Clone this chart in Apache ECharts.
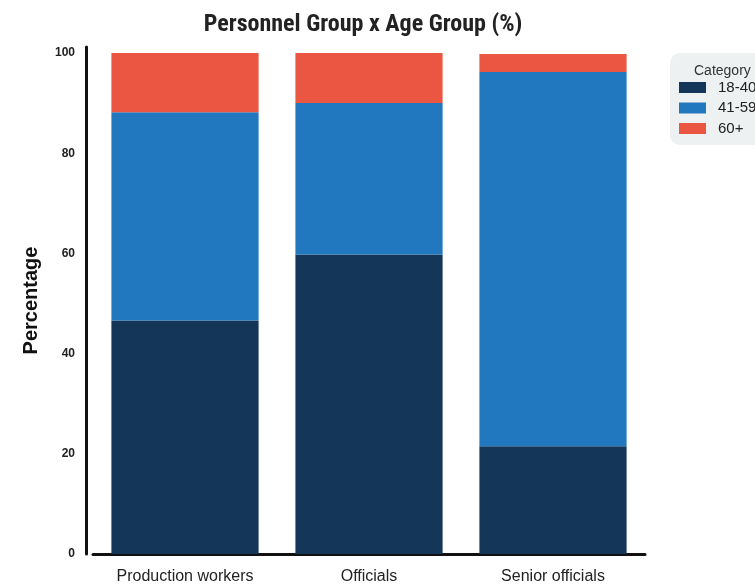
<!DOCTYPE html>
<html><head><meta charset="utf-8">
<script src="https://cdn.jsdelivr.net/npm/echarts@6/dist/echarts.min.js"></script>
<style>html,body{margin:0;padding:0;background:#fff}#c{width:755px;height:585px}</style>
</head><body><div id="c"></div>
<script>
const categories = ['Production workers', 'Officials', 'Senior officials'];
const seriesNames = ['18-40', '41-59', '60+'];
const age18_40 = [46.6, 59.8, 21.5];
const age41_59 = [41.6, 30.2, 74.7];
const age60plus = [11.8, 10.0, 3.6];
const yTicks = [0, 20, 40, 60, 80, 100];
const colors = ['#143659', '#2178bf', '#eb5643'];
const values = [age18_40, age41_59, age60plus];
const F = '"Liberation Sans Narrow", "Roboto Condensed", "Liberation Sans", sans-serif';
const A = '"Liberation Sans", Arial, sans-serif';

const chart = echarts.init(document.getElementById('c'));
chart.setOption({
  animation: false,
  title: [
    { text: 'Personnel Group x Age Group (%)', left: 358, top: 8, textAlign: 'center',
      textStyle: { fontFamily: F, fontSize: 24, fontWeight: 'bold', color: '#222' } },
    { text: 'Category', left: 689, top: 59,
      textStyle: { fontFamily: A, fontSize: 14, fontWeight: 'normal', color: '#333' } }
  ],
  legend: {
    orient: 'vertical', left: 670, top: 53,
    backgroundColor: '#edf1f1', borderRadius: 10,
    padding: [27, 30, 9, 9], itemWidth: 27, itemHeight: 11, itemGap: 5.5,
    icon: 'rect',
    textStyle: { fontFamily: A, fontSize: 15, color: '#222', padding: [0, 0, 0, 7] },
    data: seriesNames
  },
  grid: { left: 93, right: 110, top: 47, bottom: 29 },
  xAxis: {
    type: 'category', data: categories,
    axisLine: { lineStyle: { color: '#111', width: 3 } },
    axisTick: { show: false },
    axisLabel: { fontFamily: A, fontSize: 16, color: '#222', margin: 15 }
  },
  yAxis: {
    type: 'value', min: 0, max: 101.2, interval: 20, offset: 7,
    name: 'Percentage', nameLocation: 'middle', nameGap: 45, nameRotate: 90,
    nameTextStyle: { fontFamily: A, fontSize: 20, fontWeight: 'bold', color: '#111' },
    axisLine: { show: true, lineStyle: { color: '#111', width: 3 } },
    axisTick: { show: false },
    splitLine: { show: false },
    axisLabel: { fontFamily: A, fontSize: 12, fontWeight: 'bold', color: '#222', margin: 11,
      formatter: v => yTicks.includes(v) ? String(v) : '' }
  },
  series: seriesNames.map((n, i) => ({
    name: n, type: 'bar', stack: 'total', data: values[i],
    barWidth: '80%', itemStyle: { color: colors[i] }
  }))
});
</script></body></html>
